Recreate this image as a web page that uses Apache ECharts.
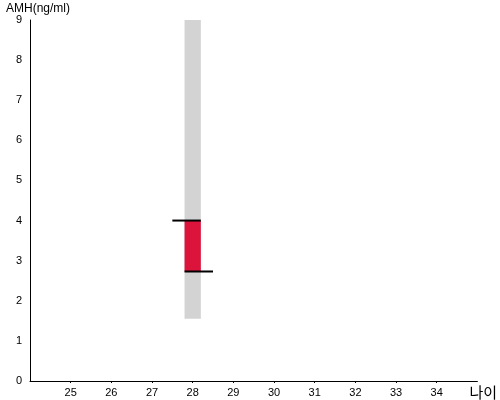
<!DOCTYPE html>
<html><head><meta charset="utf-8">
<script src="https://cdn.jsdelivr.net/npm/echarts@6/dist/echarts.min.js"></script>
<style>html,body{margin:0;padding:0;background:#fff}#c{width:500px;height:400px}</style>
</head><body><div id="c"></div>
<script>
var ages = [28];
var rangeLow = [1.55];
var rangeHigh = [9];
var boxLow = [2.73];
var boxHigh = [4.0];
var xTicks = [25,26,27,28,29,30,31,32,33,34];
var yTicks = [0,1,2,3,4,5,6,7,8,9];

var data = ages.map(function(a,i){return [a, rangeLow[i], rangeHigh[i], boxLow[i], boxHigh[i]];});
var chart = echarts.init(document.getElementById('c'));
var font = 'Liberation Sans, Arial, sans-serif';
chart.setOption({
  animation:false,
  grid:{left:30,right:19,top:20,bottom:19},
  xAxis:{type:'value',min:24,max:35,interval:1,
    name:'나이',nameLocation:'end',nameGap:-8,
    nameTextStyle:{fontSize:15,color:'#000',fontFamily:'Noto Sans CJK KR',verticalAlign:'top',align:'left',padding:[4,0,0,0]},
    axisLine:{lineStyle:{color:'#000',width:1}},
    axisTick:{show:true,length:2,lineStyle:{color:'#000'},
      customValues:xTicks},
    splitLine:{show:false},
    axisLabel:{color:'#000',fontSize:11,fontFamily:font,margin:6,
      formatter:function(v){return xTicks.indexOf(v)>=0?String(v):'';}}},
  yAxis:{type:'value',min:0,max:9,interval:1,
    name:'AMH(ng/ml)',nameLocation:'end',nameGap:4,
    nameTextStyle:{fontSize:12,color:'#000',fontFamily:font,align:'left',padding:[0,0,0,-24]},
    axisLine:{show:true,lineStyle:{color:'#000',width:1}},axisTick:{show:false},splitLine:{show:false},
    axisLabel:{color:'#000',fontSize:11,fontFamily:font,margin:8,
      formatter:function(v){return yTicks.indexOf(v)>=0?String(v):'';}}},
  series:[{type:'custom',data:data,
    renderItem:function(params,api){
      var x=api.value(0);
      var pLow=api.coord([x,api.value(1)]), pHigh=api.coord([x,api.value(2)]);
      var bLow=api.coord([x,api.value(3)]), bHigh=api.coord([x,api.value(4)]);
      var unit=api.size([1,0])[0];
      var w=unit*0.4;
      var cx=pLow[0];
      return {type:'group',children:[
        {type:'rect',shape:{x:cx-w/2,y:pHigh[1],width:w,height:pLow[1]-pHigh[1]},style:{fill:'#d3d3d3'}},
        {type:'rect',shape:{x:cx-w/2,y:bHigh[1],width:w,height:bLow[1]-bHigh[1]},style:{fill:'#dc143c'}},
        {type:'line',shape:{x1:cx-w/2-unit*0.3,y1:bHigh[1],x2:cx+w/2,y2:bHigh[1]},style:{stroke:'#000',lineWidth:2}},
        {type:'line',shape:{x1:cx-w/2,y1:bLow[1],x2:cx+w/2+unit*0.3,y2:bLow[1]},style:{stroke:'#000',lineWidth:2}}
      ]};
    }}]
});
</script></body></html>
